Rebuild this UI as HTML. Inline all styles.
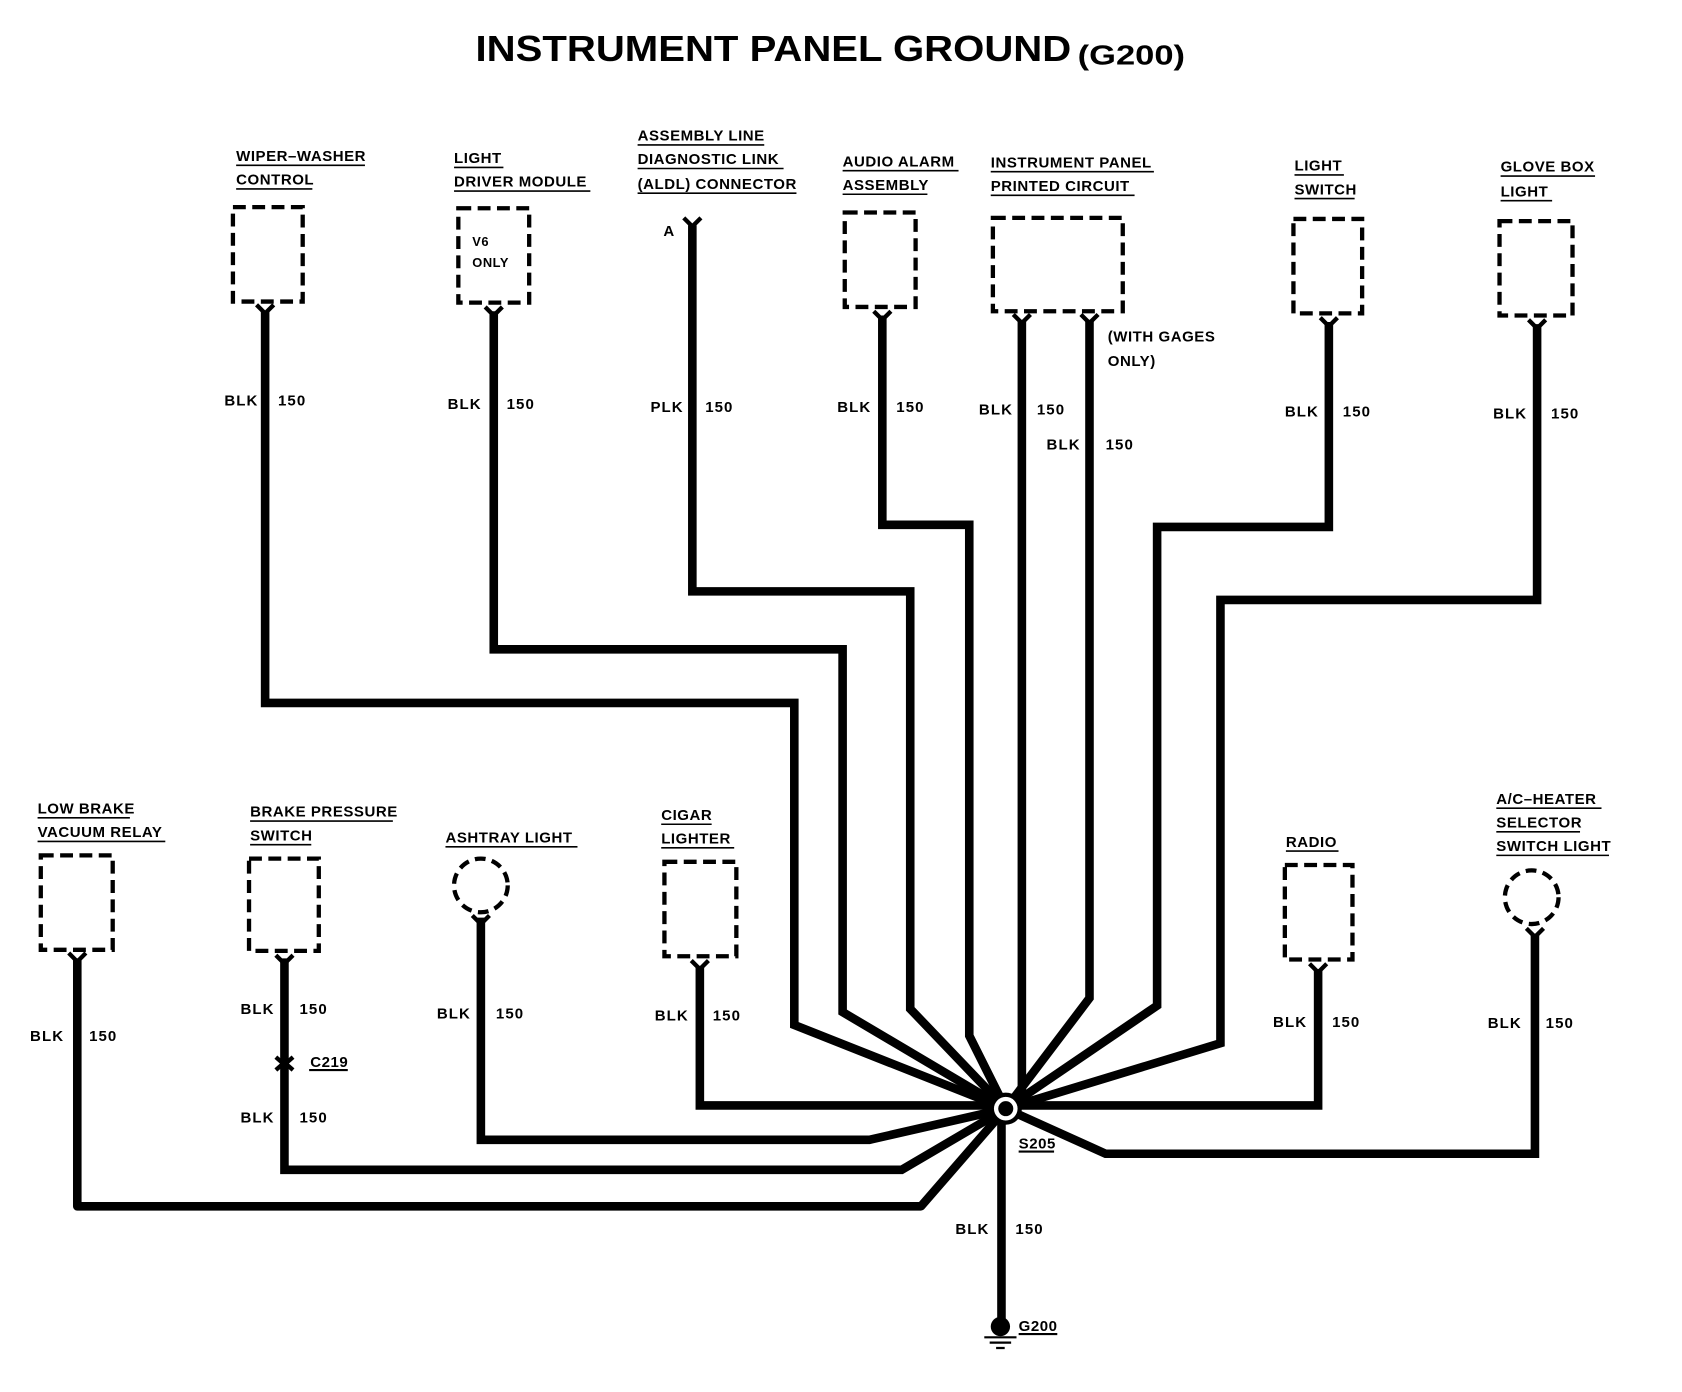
<!DOCTYPE html>
<html><head><meta charset="utf-8"><style>
html,body{margin:0;padding:0;background:#fff;}
svg{display:block;}
text{font-family:"Liberation Sans",sans-serif;font-weight:bold;fill:#000;}
.l{font-size:14px;letter-spacing:0.5px;}
.w{font-size:14px;letter-spacing:1px;}
</style></head><body>
<svg width="1682" height="1392" viewBox="0 0 1567 1297" preserveAspectRatio="none" xmlns="http://www.w3.org/2000/svg">
<rect width="1567" height="1297" fill="#fff"/>
<text x="443" y="57" font-size="34" textLength="555" lengthAdjust="spacingAndGlyphs">INSTRUMENT PANEL GROUND</text>
<text x="1004" y="60" font-size="26" textLength="100" lengthAdjust="spacingAndGlyphs">(G200)</text>

<g fill="none" stroke="#000" stroke-width="8" stroke-linejoin="miter">
<path d="M247 290 V655 H740 V955 L937 1033"/>
<path d="M460 290 V605 H785 V943 L937 1033"/>
<path d="M645 210 V551 H848 V940 L937 1033"/>
<path d="M822 294 V489 H903 V965 L937 1033"/>
<path d="M952 298 V1033"/>
<path d="M1015 298 V930 L937 1033"/>
<path d="M1238 300 V491 H1078 V937 L937 1033"/>
<path d="M1432 302 V559 H1137 V972 L937 1033"/>
<path d="M72 893 V1124 H858 L937 1033" stroke-linejoin="round"/>
<path d="M265 893 V1090 H840 L937 1033"/>
<path d="M448 855 V1062 H810 L937 1033"/>
<path d="M652 900 V1030 H937"/>
<path d="M1228 903 V1030 H937"/>
<path d="M1430 870 V1075 H1030 L937 1033"/>
<path d="M933 1033 V1232"/>
</g>
<circle cx="937" cy="1033" r="15" fill="#000"/>
<circle cx="937" cy="1033" r="11" fill="#fff"/>
<circle cx="937" cy="1033" r="7" fill="#000"/>
<circle cx="932" cy="1236" r="9" fill="#000"/>
<path d="M917 1246 H947 M922 1251 H942 M928 1256 H936" stroke="#000" stroke-width="2"/>
<text class="l" x="949" y="1240">G200</text><path d="M949 1243 H985" stroke="#000" stroke-width="2"/>
<text class="l" x="949" y="1070">S205</text><path d="M949 1073 H982" stroke="#000" stroke-width="2"/>

<g fill="none" stroke="#000" stroke-width="4" stroke-dasharray="12,6">
<rect x="217" y="193" width="65" height="88"/>
<rect x="427" y="194" width="66" height="88"/>
<rect x="787" y="198" width="66" height="88"/>
<rect x="925" y="203" width="121" height="87"/>
<rect x="1205" y="204" width="64" height="88"/>
<rect x="1397" y="206" width="68" height="88"/>
<rect x="38" y="797" width="67" height="88"/>
<rect x="232" y="800" width="65" height="86"/>
<rect x="619" y="803" width="67" height="88"/>
<rect x="1197" y="806" width="63" height="88"/>
<circle cx="448" cy="825" r="25" stroke-dasharray="10,6"/>
<circle cx="1427" cy="836" r="25" stroke-dasharray="10,6"/>
</g>
<g fill="none" stroke="#000" stroke-width="4">
<path d="M239 284 L247 292 L255 284"/>
<path d="M452 286 L460 294 L468 286"/>
<path d="M637 203 L645 211 L653 203"/>
<path d="M814 290 L822 298 L830 290"/>
<path d="M944 293 L952 301 L960 293"/>
<path d="M1007 293 L1015 301 L1023 293"/>
<path d="M1230 296 L1238 304 L1246 296"/>
<path d="M1424 298 L1432 306 L1440 298"/>
<path d="M64 888 L72 896 L80 888"/>
<path d="M257 890 L265 898 L273 890"/>
<path d="M440 853 L448 861 L456 853"/>
<path d="M644 895 L652 903 L660 895"/>
<path d="M1220 898 L1228 906 L1236 898"/>
<path d="M1422 865 L1430 873 L1438 865"/>
<path d="M257 985 L265 992 L273 985 M257 997 L265 990 L273 997"/>
</g>
<text class="l" x="289" y="994">C219</text><path d="M288 997 H324" stroke="#000" stroke-width="2"/>

<g class="l">
<text x="220" y="150">WIPER–WASHER</text><text x="220" y="172">CONTROL</text>
<text x="423" y="152">LIGHT</text><text x="423" y="174">DRIVER MODULE</text>
<text x="594" y="131">ASSEMBLY LINE</text><text x="594" y="153">DIAGNOSTIC LINK</text><text x="594" y="176">(ALDL) CONNECTOR</text>
<text x="785" y="155">AUDIO ALARM</text><text x="785" y="177">ASSEMBLY</text>
<text x="923" y="156">INSTRUMENT PANEL</text><text x="923" y="178">PRINTED CIRCUIT</text>
<text x="1206" y="159">LIGHT</text><text x="1206" y="181">SWITCH</text>
<text x="1398" y="160">GLOVE BOX</text><text x="1398" y="183">LIGHT</text>
<text x="35" y="758">LOW BRAKE</text><text x="35" y="780">VACUUM RELAY</text>
<text x="233" y="761">BRAKE PRESSURE</text><text x="233" y="783">SWITCH</text>
<text x="415" y="785">ASHTRAY LIGHT</text>
<text x="616" y="764">CIGAR</text><text x="616" y="786">LIGHTER</text>
<text x="1198" y="789">RADIO</text>
<text x="1394" y="749">A/C–HEATER</text><text x="1394" y="771">SELECTOR</text><text x="1394" y="793">SWITCH LIGHT</text>
<text x="1032" y="318">(WITH GAGES</text><text x="1032" y="341">ONLY)</text>
<text x="440" y="229" font-size="12">V6</text><text x="440" y="249" font-size="12">ONLY</text>
<text x="618" y="220">A</text>
</g>
<g stroke="#000" stroke-width="1.5">
<path d="M220 154 H340 M220 176 H291"/>
<path d="M423 156 H469 M423 178 H550"/>
<path d="M594 135 H712 M594 157 H730 M594 180 H742"/>
<path d="M785 159 H893 M785 181 H864"/>
<path d="M923 160 H1075 M923 182 H1057"/>
<path d="M1206 163 H1252 M1206 185 H1262"/>
<path d="M1398 164 H1486 M1398 187 H1446"/>
<path d="M35 762 H121 M35 784 H154"/>
<path d="M233 765 H366 M233 787 H290"/>
<path d="M415 789 H538"/>
<path d="M616 768 H663 M616 790 H684"/>
<path d="M1198 793 H1247"/>
<path d="M1394 753 H1492 M1394 775 H1472 M1394 797 H1499"/>
</g>
<g class="w">
<text x="209" y="378">BLK</text><text x="259" y="378">150</text>
<text x="417" y="381">BLK</text><text x="472" y="381">150</text>
<text x="606" y="384">PLK</text><text x="657" y="384">150</text>
<text x="780" y="384">BLK</text><text x="835" y="384">150</text>
<text x="912" y="386">BLK</text><text x="966" y="386">150</text>
<text x="975" y="419">BLK</text><text x="1030" y="419">150</text>
<text x="1197" y="388">BLK</text><text x="1251" y="388">150</text>
<text x="1391" y="390">BLK</text><text x="1445" y="390">150</text>
<text x="28" y="970">BLK</text><text x="83" y="970">150</text>
<text x="224" y="945">BLK</text><text x="279" y="945">150</text>
<text x="224" y="1046">BLK</text><text x="279" y="1046">150</text>
<text x="407" y="949">BLK</text><text x="462" y="949">150</text>
<text x="610" y="951">BLK</text><text x="664" y="951">150</text>
<text x="1186" y="957">BLK</text><text x="1241" y="957">150</text>
<text x="1386" y="958">BLK</text><text x="1440" y="958">150</text>
<text x="890" y="1150">BLK</text><text x="946" y="1150">150</text>
</g>
</svg>
</body></html>
